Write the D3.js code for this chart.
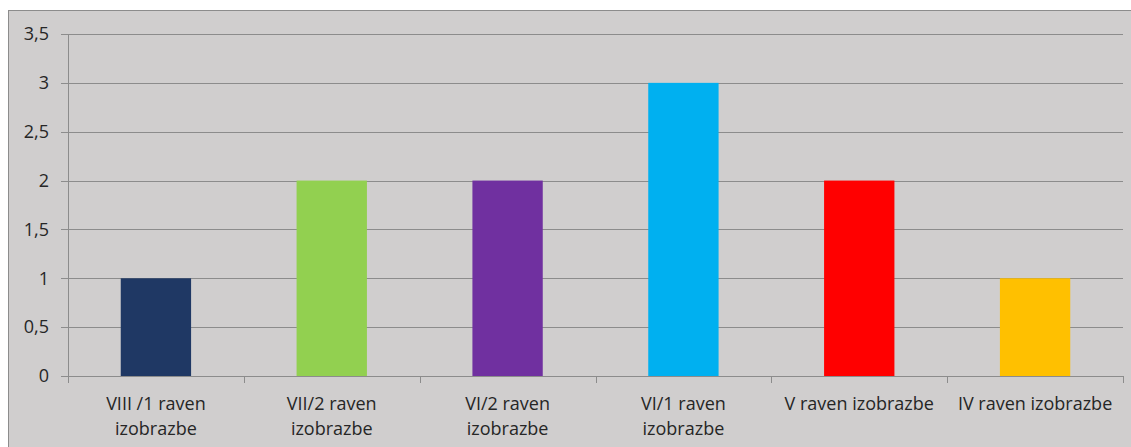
<!DOCTYPE html>
<html>
<head>
<meta charset="utf-8">
<script src="https://cdn.jsdelivr.net/npm/d3@7"></script>
<style>
  body { margin: 0; background: #fff; }
  text { font-family: "Open Sans", "Noto Sans", sans-serif; fill: #262626; }
</style>
</head>
<body>
<svg id="chart" width="1131" height="447"></svg>
<script>
var categories = [["VIII /1 raven", "izobrazbe"], ["VII/2 raven", "izobrazbe"], ["VI/2 raven", "izobrazbe"],
	["VI/1 raven", "izobrazbe"], ["V raven izobrazbe"], ["IV raven izobrazbe"]];
var values = [1, 2, 2, 3, 2, 1];
var colors = ["#1f3864", "#92d050", "#7030a0", "#00b0f0", "#ff0000", "#ffc000"];
var yTicks = [0, 0.5, 1, 1.5, 2, 2.5, 3, 3.5];
var yTickLabels = ["0", "0,5", "1", "1,5", "2", "2,5", "3", "3,5"];

var svg = d3.select("#chart"),
	margin = {top: 34, bottom: 71, left: 68, right: 8},
	width = +svg.attr("width"),
	height = +svg.attr("height");

// chart background
svg.append("rect")
	.attr("x", 8.5).attr("y", 10.5)
	.attr("width", width - 8).attr("height", height - 10)
	.attr("fill", "#d0cece")
	.attr("stroke", "#8c8c8c");

var keys = categories.map((d, i) => i);

var x = d3.scaleBand()
	.domain(keys)
	.range([margin.left, width - margin.right])
	.padding(0);

var y = d3.scaleLinear()
	.domain([0, 3.5])
	.range([height - margin.bottom, margin.top]);

// grid lines
svg.append("g")
	.selectAll("line")
	.data(yTicks)
	.enter().append("line")
	.attr("x1", margin.left - 7)
	.attr("x2", width - margin.right)
	.attr("y1", d => Math.round(y(d)) + 0.5)
	.attr("y2", d => Math.round(y(d)) + 0.5)
	.attr("stroke", "#8c8c8c");

// y axis line
svg.append("line")
	.attr("x1", margin.left + 0.5).attr("x2", margin.left + 0.5)
	.attr("y1", y(3.5)).attr("y2", y(0))
	.attr("stroke", "#8c8c8c");

// x tick marks
svg.append("g")
	.selectAll("line")
	.data(keys.concat([keys.length]))
	.enter().append("line")
	.attr("x1", d => Math.round(d < keys.length ? x(d) : x.range()[1]) + 0.5)
	.attr("x2", d => Math.round(d < keys.length ? x(d) : x.range()[1]) + 0.5)
	.attr("y1", y(0))
	.attr("y2", y(0) + 7)
	.attr("stroke", "#8c8c8c");

// y labels
svg.append("g")
	.selectAll("text")
	.data(yTicks)
	.enter().append("text")
	.attr("x", 49)
	.attr("y", d => y(d))
	.attr("dy", "0.35em")
	.attr("text-anchor", "end")
	.style("font-size", "18px")
	.text((d, i) => yTickLabels[i]);

// bars
var bw = x.bandwidth();
svg.append("g")
	.selectAll("rect")
	.data(values)
	.enter().append("rect")
	.attr("x", (d, i) => x(i) + bw * 0.3)
	.attr("width", bw * 0.4)
	.attr("y", d => y(d))
	.attr("height", d => y(0) - y(d))
	.attr("fill", (d, i) => colors[i]);

// category labels
var lab = svg.append("g")
	.selectAll("text")
	.data(categories)
	.enter().append("text")
	.attr("x", (d, i) => x(i) + bw / 2)
	.attr("y", 410)
	.attr("text-anchor", "middle")
	.style("font-size", "18px");

lab.selectAll("tspan")
	.data(d => d)
	.enter().append("tspan")
	.attr("x", function() { return d3.select(this.parentNode).attr("x"); })
	.attr("dy", (d, i) => i ? 25 : 0)
	.text(d => d);
</script>
</body>
</html>
